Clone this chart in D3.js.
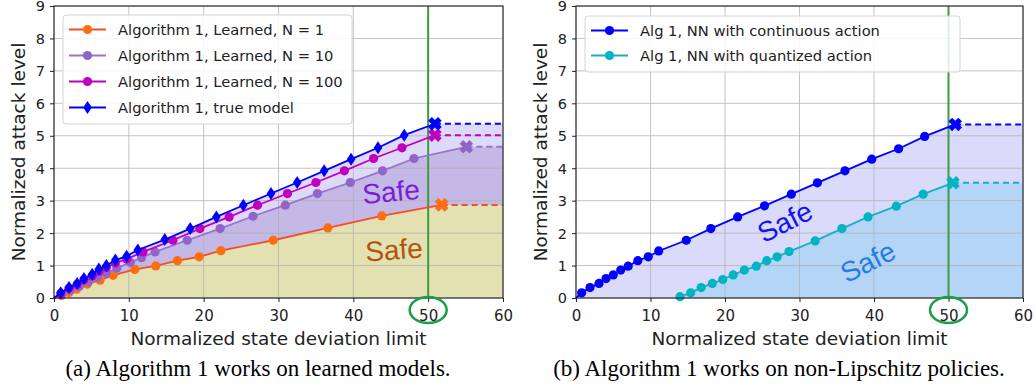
<!DOCTYPE html>
<html>
<head>
<meta charset="utf-8">
<script src="https://cdn.jsdelivr.net/npm/d3@7"></script>
<style>
  body { margin: 0; background: #fff; }
</style>
</head>
<body>
<svg id="chart" width="1036" height="387" font-family="DejaVu Sans, sans-serif"></svg>
<script>
const xTicks = [0, 10, 20, 30, 40, 50, 60]
const yTicks = [0, 1, 2, 3, 4, 5, 6, 7, 8, 9]
const xLabel = 'Normalized state deviation limit'
const yLabel = 'Normalized attack level'

// (a) learned models
const n1X = [1.0, 2.0, 3.0, 4.45, 6.15, 7.9, 10.8, 13.6, 16.5, 19.4, 22.3, 29.3, 36.6, 43.8]
const n1Y = [0.08, 0.17, 0.27, 0.43, 0.55, 0.7, 0.88, 0.99, 1.15, 1.27, 1.46, 1.78, 2.16, 2.53]
const n1End = [51.8, 2.87]
const n10X = [1.0, 2.2, 3.4, 4.6, 5.8, 7.0, 8.4, 10.2, 11.7, 13.5, 17.8, 22.2, 26.6, 30.9, 35.2, 39.6, 43.9, 48.1]
const n10Y = [0.1, 0.24, 0.36, 0.5, 0.63, 0.76, 0.92, 1.1, 1.24, 1.42, 1.78, 2.14, 2.52, 2.86, 3.22, 3.56, 3.92, 4.3]
const n10End = [55.1, 4.66]
const n100X = [0.9, 2.0, 3.1, 4.0, 5.1, 6.0, 7.0, 8.2, 9.7, 11.9, 15.9, 19.5, 23.4, 27.2, 31.2, 35.0, 38.8, 42.7, 46.5]
const n100Y = [0.14, 0.3, 0.42, 0.56, 0.68, 0.82, 0.94, 1.08, 1.2, 1.42, 1.78, 2.14, 2.5, 2.86, 3.22, 3.56, 3.92, 4.3, 4.63]
const n100End = [50.9, 5.02]
const trueX = [0.9, 2.0, 3.1, 4.0, 5.1, 6.0, 7.0, 8.2, 9.7, 11.2, 14.8, 18.2, 21.7, 25.3, 29.0, 32.5, 36.1, 39.7, 43.3, 46.8]
const trueY = [0.16, 0.32, 0.45, 0.6, 0.73, 0.89, 1.0, 1.17, 1.29, 1.48, 1.8, 2.14, 2.5, 2.86, 3.22, 3.56, 3.92, 4.28, 4.63, 5.02]
const trueEnd = [50.9, 5.37]

// (b) non-Lipschitz policies
const contX = [0.76, 1.88, 3.09, 4.03, 5.0, 6.0, 7.0, 8.3, 9.7, 11.1, 14.8, 18.1, 21.7, 25.3, 28.9, 32.4, 36.1, 39.7, 43.3, 46.8]
const contY = [0.16, 0.32, 0.45, 0.6, 0.71, 0.86, 0.98, 1.15, 1.27, 1.45, 1.78, 2.14, 2.5, 2.84, 3.2, 3.55, 3.92, 4.28, 4.6, 4.98]
const contEnd = [50.9, 5.35]
const quantX = [13.96, 15.4, 16.8, 18.3, 19.7, 21.1, 22.6, 24.2, 25.6, 27.0, 28.6, 32.1, 35.7, 39.2, 43.0, 46.6]
const quantY = [0.04, 0.16, 0.32, 0.45, 0.57, 0.71, 0.86, 0.98, 1.15, 1.27, 1.43, 1.76, 2.14, 2.5, 2.83, 3.2]
const quantEnd = [50.6, 3.55]
const quantStart = [13.5, 0]

const highlightX = 50

const svg = d3.select('#chart')
const plotTop = 6, plotBottom = 298

function zip(xs, ys) {
    return xs.map(function(v, i) { return [v, ys[i]] })
}

// matplotlib style filled "X"
function xMarkerPath(h, a) {
    return 'M' + [[a, h], [a, a], [h, a], [h, -a], [a, -a], [a, -h], [-a, -h], [-a, -a], [-h, -a], [-h, a], [-a, a], [-a, h]].join('L') + 'Z'
}
const diamond = 'M0,-6.5L4.3,0L0,6.5L-4.3,0Z'

function drawPanel(p) {
    const g = svg.append('g')
    const x = d3.scaleLinear().domain([0, 60]).range([p.left, p.right])
    const y = d3.scaleLinear().domain([0, 9]).range([plotBottom, plotTop])

    // fills, back to front
    const area = d3.area().x(d => x(d[0])).y0(y(0)).y1(d => y(d[1]))
    p.fills.forEach(function(f) {
        const s = f.s
        const pts = [s.start].concat(zip(s.x, s.y), [s.end, [60, s.end[1]]])
        g.append('path').attr('d', area(pts)).attr('fill', f.color)
    })

    // grid
    g.selectAll('.gx').data(xTicks).enter().append('line')
        .attr('x1', d => x(d)).attr('x2', d => x(d)).attr('y1', plotTop).attr('y2', plotBottom)
        .attr('stroke', '#b0b0b0').attr('stroke-opacity', 0.75).attr('stroke-width', 1)
    g.selectAll('.gy').data(yTicks).enter().append('line')
        .attr('x1', p.left).attr('x2', p.right).attr('y1', d => y(d)).attr('y2', d => y(d))
        .attr('stroke', '#b0b0b0').attr('stroke-opacity', 0.75).attr('stroke-width', 1)

    // axes
    const ax = g.append('g').attr('transform', 'translate(0,' + plotBottom + ')')
        .call(d3.axisBottom(x).tickValues(xTicks).tickSize(4).tickPadding(8))
    const ay = g.append('g').attr('transform', 'translate(' + p.left + ',0)')
        .call(d3.axisLeft(y).tickValues(yTicks).tickSize(4).tickPadding(5))
    ;[ax, ay].forEach(function(a) {
        a.select('.domain').remove()
        a.attr('font-family', null).attr('font-size', null)
        a.selectAll('text').attr('font-size', '15px').attr('fill', '#222')
        a.selectAll('line').attr('stroke', '#222')
    })
    ay.selectAll('text').attr('font-size', '14.5px').attr('dy', '0.34em')

    // threshold line
    g.append('line').attr('x1', x(highlightX)).attr('x2', x(highlightX))
        .attr('y1', plotTop).attr('y2', plotBottom)
        .attr('stroke', '#3f9b3f').attr('stroke-width', 2)

    // series
    const line = d3.line().x(d => x(d[0])).y(d => y(d[1]))
    p.series.forEach(function(s) {
        const pts = zip(s.x, s.y)
        g.append('path').attr('d', line([s.start].concat(pts, [s.end])))
            .attr('fill', 'none').attr('stroke', s.color).attr('stroke-width', 1.8)
        g.append('path').attr('d', line([s.end, [60, s.end[1]]]))
            .attr('fill', 'none').attr('stroke', s.color).attr('stroke-width', 2)
            .attr('stroke-dasharray', '6,4')
        const m = g.append('g')
        pts.forEach(function(d) {
            if (s.marker === 'd') {
                m.append('path').attr('d', diamond)
                    .attr('transform', 'translate(' + x(d[0]) + ',' + y(d[1]) + ')')
                    .attr('fill', s.mcolor)
            } else {
                m.append('circle').attr('cx', x(d[0])).attr('cy', y(d[1])).attr('r', 4.6)
                    .attr('fill', s.mcolor)
            }
        })
        g.append('path').attr('d', xMarkerPath(7, 2.6))
            .attr('transform', 'translate(' + x(s.end[0]) + ',' + y(s.end[1]) + ') rotate(45)')
            .attr('fill', s.mcolor)
    })

    // "Safe" annotations
    p.safes.forEach(function(t) {
        g.append('text').text('Safe')
            .attr('transform', 'translate(' + t.cx + ',' + t.cy + ') rotate(' + t.rot + ')')
            .attr('text-anchor', 'middle').attr('dominant-baseline', 'central')
            .attr('font-family', 'Liberation Sans, Arial, sans-serif')
            .attr('font-size', '28px').attr('fill', t.color)
    })

    // frame
    g.append('rect').attr('x', p.left).attr('y', plotTop)
        .attr('width', p.right - p.left).attr('height', plotBottom - plotTop)
        .attr('fill', 'none').attr('stroke', '#111').attr('stroke-width', 1)

    // legend
    const L = p.legend
    g.append('rect').attr('x', L.x).attr('y', L.y).attr('width', L.w).attr('height', L.h)
        .attr('rx', 3).attr('fill', '#fff').attr('fill-opacity', 0.85)
        .attr('stroke', '#d4d4d4').attr('stroke-width', 1)
    p.series.forEach(function(s, i) {
        const ry = L.y + 14.5 + i * L.step
        const lx = L.x + 6
        g.append('line').attr('x1', lx).attr('x2', lx + 37).attr('y1', ry).attr('y2', ry)
            .attr('stroke', s.color).attr('stroke-width', 2)
        if (s.marker === 'd') {
            g.append('path').attr('d', diamond)
                .attr('transform', 'translate(' + (lx + 18.5) + ',' + ry + ')').attr('fill', s.mcolor)
        } else {
            g.append('circle').attr('cx', lx + 18.5).attr('cy', ry).attr('r', 4.6).attr('fill', s.mcolor)
        }
        g.append('text').text(s.label).attr('x', lx + 49).attr('y', ry)
            .attr('dominant-baseline', 'central').attr('font-size', '14.7px').attr('fill', '#222')
    })

    // axis titles
    const cx = (p.left + p.right) / 2
    g.append('text').text(xLabel).attr('x', cx).attr('y', 345)
        .attr('text-anchor', 'middle').attr('font-size', '18.5px').attr('fill', '#222')
    g.append('text').text(yLabel)
        .attr('transform', 'translate(' + (p.left - 36) + ',' + ((plotTop + plotBottom) / 2) + ') rotate(-90)')
        .attr('text-anchor', 'middle').attr('dominant-baseline', 'central')
        .attr('font-size', '18.5px').attr('fill', '#222')

    // green circle around the 50 tick
    g.append('ellipse').attr('cx', x(highlightX)).attr('cy', 310).attr('rx', 18.5).attr('ry', 13)
        .attr('fill', 'none').attr('stroke', '#1a9e48').attr('stroke-width', 2.5)

    // caption
    g.append('text').text(p.caption).attr('x', p.capX).attr('y', 376)
        .attr('text-anchor', 'middle').attr('font-family', 'Liberation Serif, Times New Roman, serif')
        .attr('font-size', '23px').attr('fill', '#000')
}

const sN1 = { x: n1X, y: n1Y, start: [0, 0], end: n1End, color: '#f04f2a', mcolor: '#ff6c12', marker: 'o', label: 'Algorithm 1, Learned, N = 1' }
const sN10 = { x: n10X, y: n10Y, start: [0, 0], end: n10End, color: '#9873cf', mcolor: '#9165c8', marker: 'o', label: 'Algorithm 1, Learned, N = 10' }
const sN100 = { x: n100X, y: n100Y, start: [0, 0], end: n100End, color: '#bf00bf', mcolor: '#bf00bf', marker: 'o', label: 'Algorithm 1, Learned, N = 100' }
const sTrue = { x: trueX, y: trueY, start: [0, 0], end: trueEnd, color: '#0000ff', mcolor: '#0000ff', marker: 'd', label: 'Algorithm 1, true model' }

drawPanel({
    left: 54, right: 503,
    series: [sN1, sN10, sN100, sTrue],
    fills: [{ s: sTrue, color: '#dcdaf8' }, { s: sN10, color: '#c3b8e6' }, { s: sN1, color: '#e3e0b2' }],
    legend: { x: 63, y: 15, w: 289, h: 109, step: 26 },
    safes: [{ cx: 391, cy: 192, rot: -5, color: '#7a1ed4' }, { cx: 394, cy: 250, rot: -4, color: '#b0550f' }],
    caption: '(a) Algorithm 1 works on learned models.', capX: 258
})

const sCont = { x: contX, y: contY, start: [0, 0], end: contEnd, color: '#0000ff', mcolor: '#0000ff', marker: 'o', label: 'Alg 1, NN with continuous action' }
const sQuant = { x: quantX, y: quantY, start: quantStart, end: quantEnd, color: '#1aaec8', mcolor: '#00b4c4', marker: 'o', label: 'Alg 1, NN with quantized action' }

drawPanel({
    left: 576, right: 1023,
    series: [sCont, sQuant],
    fills: [{ s: sCont, color: '#dadafa' }, { s: sQuant, color: '#b5d5f7' }],
    legend: { x: 585, y: 16, w: 375, h: 56, step: 25 },
    safes: [{ cx: 785, cy: 222, rot: -27, color: '#1414ee' }, { cx: 868, cy: 262, rot: -27, color: '#1f7ee8' }],
    caption: '(b) Algorithm 1 works on non-Lipschitz policies.', capX: 779
})
</script>
</body>
</html>
